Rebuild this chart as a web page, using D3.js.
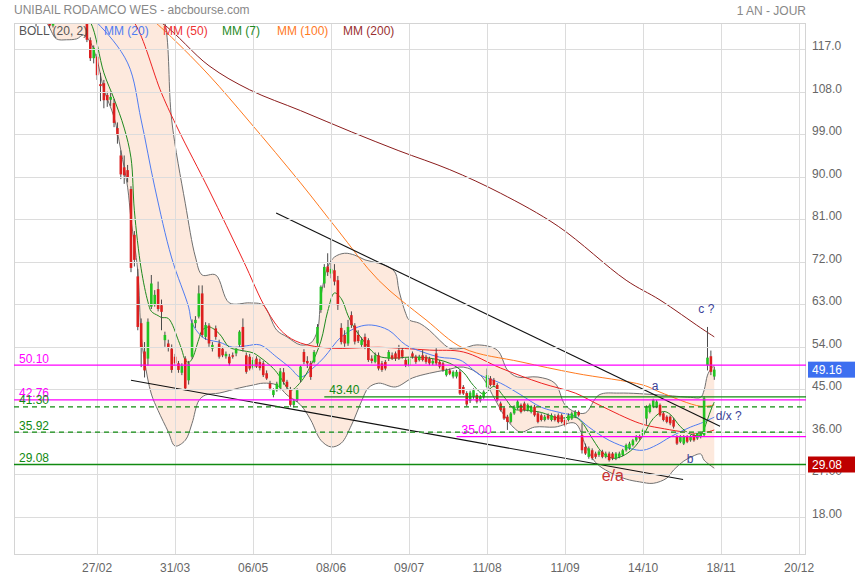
<!DOCTYPE html>
<html><head><meta charset="utf-8">
<script src="https://cdn.jsdelivr.net/npm/d3@7/dist/d3.min.js"></script>
<style>
body{margin:0;background:#fff}
svg{display:block}
text{font-family:"Liberation Sans",Arial,sans-serif}
</style>
</head><body>
<svg id="chart" width="855" height="580"></svg>
<script>
// ---------- DATA ----------
const titleText = "UNIBAIL RODAMCO WES - abcbourse.com";
const periodText = "1 AN - JOUR";
const firstDay = 0;
const openP = [130.0,129.0,127.5,128.5,126.5,125.0,123.5,123.0,124.5,125.5,124.0,122.0,123.2,125.0,126.5,127.0,128.0,127.5,127.0,126.0,
125.5,123.2,118.9,115.1,115.4,109.6,109.8,107.3,106.3,105.6,100.3,94.5,92.0,91.4,87.4,77.7,68.9,59.0,53.0,51.5,
62.5,63.0,66.2,62.8,55.4,54.7,53.6,51.9,50.5,48.5,51.5,46.9,51.9,59.0,60.4,65.3,56.1,58.5,53.6,57.9,
54.7,53.6,52.0,51.9,52.2,52.6,54.4,58.2,52.2,51.9,49.6,51.5,50.8,50.5,48.4,46.2,43.8,44.8,45.3,48.6,
46.6,45.0,41.7,42.7,47.0,52.9,51.0,50.5,50.8,54.7,61.8,67.4,71.0,69.5,70.2,68.1,58.0,56.5,54.7,60.7,
58.5,56.5,54.4,56.1,55.4,51.5,50.8,52.2,50.5,50.8,51.5,52.2,52.6,53.3,53.3,51.2,50.1,52.6,51.9,51.2,
52.2,51.9,51.5,50.5,52.6,50.8,50.5,48.0,49.0,47.7,47.7,48.7,45.5,44.2,42.5,43.4,43.8,42.6,43.3,45.5,
47.3,47.0,45.9,42.0,41.0,39.2,38.1,39.9,41.0,41.7,42.0,40.6,40.2,41.3,39.9,39.5,38.5,39.5,38.5,39.3,
39.5,39.5,38.5,38.5,38.8,39.2,40.2,35.3,32.8,30.7,32.1,31.4,31.1,31.8,30.7,31.4,31.4,30.4,30.7,31.1,
32.1,32.5,33.2,34.2,35.0,35.3,38.8,40.2,41.3,41.3,41.7,39.9,39.2,39.2,38.5,35.0,33.9,33.5,35.0,34.2,
35.3,34.6,35.0,35.3,50.1,52.0,47.7];
const highP = [131.5,130.0,129.0,129.5,127.5,126.0,124.5,125.0,126.0,126.5,124.5,123.5,125.5,127.0,128.0,128.5,129.5,128.5,128.0,127.0,
126.0,124.0,119.5,117.8,116.0,112.0,110.5,108.0,108.0,106.5,101.5,95.6,94.5,92.5,88.0,78.5,70.5,60.0,55.0,60.0,
69.2,66.0,67.8,64.0,57.2,55.5,54.5,52.5,51.0,50.5,52.0,51.0,59.8,60.5,67.0,67.0,59.2,59.0,55.0,58.5,
55.5,54.0,53.0,52.5,52.8,54.0,57.5,60.0,52.8,52.5,51.8,52.0,51.5,51.0,49.0,46.8,45.2,46.6,49.5,49.5,
47.0,45.5,43.0,45.2,50.0,53.5,52.0,51.0,53.3,58.8,67.0,71.5,73.8,76.6,71.5,69.0,59.0,57.5,59.7,61.5,
59.0,57.5,56.0,56.8,55.8,52.2,52.8,52.8,51.0,51.2,53.3,52.8,53.0,54.4,53.8,51.6,51.9,53.0,52.3,52.3,
53.3,52.3,51.9,51.4,53.7,51.2,50.8,49.4,49.4,49.0,49.1,49.2,45.9,44.6,44.7,45.2,44.2,43.8,44.8,49.4,
47.8,47.4,46.3,42.4,41.3,39.6,40.2,41.6,42.7,42.0,42.4,42.0,41.6,41.7,40.3,39.9,39.6,39.9,39.9,39.7,
39.9,39.9,38.9,39.9,40.3,40.6,40.5,37.8,33.5,32.9,32.5,31.8,32.1,32.2,31.8,31.8,31.7,31.7,31.8,32.4,
33.5,33.9,34.5,35.3,35.4,36.7,41.6,42.0,43.0,42.7,42.0,40.2,39.5,39.5,38.9,35.3,35.3,35.3,35.3,35.3,
35.6,36.0,36.0,43.5,58.2,53.2,49.8];
const lowP = [128.5,127.0,126.5,126.0,124.5,123.0,121.8,122.7,123.5,123.5,121.5,121.6,122.8,124.5,125.5,126.0,127.0,126.5,125.5,124.5,
123.0,118.5,114.5,114.0,110.5,106.0,104.5,104.8,105.0,100.5,97.0,89.5,88.5,88.8,69.8,71.0,57.5,49.7,47.5,50.0,
62.0,62.5,61.5,57.5,54.0,53.0,48.5,50.0,48.5,48.0,44.8,46.0,51.5,58.0,60.0,56.0,55.5,54.0,53.0,55.5,
51.5,51.8,51.5,50.0,51.5,52.0,54.0,53.0,48.3,49.0,49.2,49.5,49.0,47.6,47.0,44.8,43.3,44.5,44.8,46.0,
45.0,41.3,41.2,42.3,46.5,50.3,49.5,47.0,50.5,54.2,61.2,66.5,69.0,68.5,67.0,61.8,54.5,54.0,54.2,58.0,
54.5,54.8,54.0,53.5,50.8,50.5,50.5,49.0,48.7,49.0,51.0,51.2,51.0,51.2,51.5,49.7,49.8,51.5,50.4,50.9,
50.9,50.4,50.1,50.1,50.1,49.4,48.7,47.7,48.0,47.3,47.3,43.8,43.8,41.4,42.1,43.0,42.0,42.2,43.0,45.2,
45.6,45.6,42.4,40.3,38.5,36.4,37.8,39.6,40.7,39.9,40.3,40.3,39.9,39.2,37.8,38.2,38.2,38.5,38.2,38.2,
37.8,37.8,37.1,38.2,38.5,38.9,39.2,31.4,31.1,30.3,30.0,30.3,30.7,30.4,30.4,29.7,30.0,30.0,30.4,30.8,
31.8,32.2,32.9,33.9,34.3,35.0,37.5,39.9,41.0,41.0,39.2,38.2,37.8,37.4,36.7,33.2,33.6,33.2,33.6,33.9,
33.9,34.3,34.6,35.0,49.0,48.0,47.0];
const closeP = [129.0,127.5,128.5,126.5,125.0,123.5,122.4,124.5,125.5,124.0,122.0,123.2,125.0,126.5,127.0,128.0,127.5,127.0,126.0,125.5,
123.5,119.0,115.1,117.3,111.5,109.2,106.2,106.2,106.9,101.4,98.8,90.5,90.3,89.9,70.7,72.4,58.2,53.9,49.0,59.3,
67.4,65.0,62.0,61.4,56.5,53.9,49.1,50.5,49.1,49.9,45.2,50.5,59.0,59.7,65.3,56.5,58.6,54.7,54.4,56.1,
51.9,52.2,52.5,50.5,51.9,53.6,57.2,53.6,48.7,49.4,51.2,49.8,49.5,48.0,47.3,45.2,44.8,46.2,48.8,46.6,
45.5,41.7,42.5,44.8,49.8,50.8,50.5,47.6,52.9,58.2,66.7,70.9,69.8,70.5,67.8,62.8,55.0,54.7,58.2,58.6,
55.1,55.2,55.4,54.0,51.2,51.0,52.2,49.4,49.1,49.4,52.9,51.5,51.5,51.5,51.9,50.1,51.5,51.9,50.8,51.9,
51.2,50.8,50.5,51.0,50.5,49.8,49.1,49.1,48.3,48.7,48.7,44.1,44.1,41.8,44.3,44.8,42.4,43.5,44.5,48.0,
45.9,45.9,42.7,40.6,38.8,38.1,39.9,41.3,42.4,40.2,40.6,41.7,41.3,39.5,38.1,38.5,39.2,38.8,39.5,38.5,
38.1,38.1,37.4,39.5,39.9,40.2,39.5,32.1,31.4,32.5,30.4,30.7,31.8,30.7,31.4,30.0,30.4,31.4,31.4,32.1,
33.2,33.5,34.2,34.9,34.6,36.4,41.3,41.7,42.7,42.4,39.5,38.5,38.1,37.8,37.1,33.5,35.0,35.0,33.9,35.0,
34.2,35.7,35.7,43.1,51.7,48.7,49.16];

// moving averages & bollinger (day index, value)
const mm7Days = [18,22,26,29,32,34,35,37,39,40,42,43,45,48,49,50,51,52,54,55,57,60,63,66,70,72,76,78,81,84,87,90,92,94,96,98,100,102,105,107,111,116,122,128,132,135,138,141,144,147,150,155,160,165,167,169,171,173,176,179,182,185,188,191,193,196,199,202,203,204,205,206];
const mm7Vals = [126.0,122.8,112.0,106.5,100.3,94.0,82.8,70.5,63.5,61.5,60.6,60.2,60.0,55.3,53.3,51.2,50.7,51.4,55.6,57.5,58.2,56.8,53.9,53.3,52.7,51.8,49.4,47.6,44.8,46.5,50.0,55.2,61.5,65.4,64.2,60.6,57.8,55.8,53.1,52.0,51.6,51.8,51.6,50.5,48.6,45.8,44.0,45.6,43.4,40.8,40.6,40.1,38.9,39.1,38.0,35.8,33.5,31.6,30.4,30.9,32.4,35.2,38.8,40.3,39.7,37.1,35.5,35.3,36.6,38.6,40.6,42.3];
const mm20Days = [18,24,33,37,41,46,51,52,55,57,60,64,68,72,77,81,84,88,91,96,101,105,110,115,120,125,131,137,143,149,155,161,165,169,175,181,185,189,193,199,202,206];
const mm20Vals = [126.0,122.6,114.1,102.0,87.8,72.8,62.4,59.0,56.1,55.4,55.0,53.9,54.2,54.4,51.8,49.5,47.6,49.7,51.8,56.1,58.2,58.6,57.5,54.4,52.9,51.8,51.2,48.0,46.3,43.8,41.2,40.0,39.3,37.0,34.2,32.5,32.1,33.2,34.9,37.0,37.8,39.1];
const mm50Days = [30,35,43,48,57,67,74,79,84,93,107,122,132,143,155,165,172,184,190,202,206];
const mm50Vals = [126.0,122.6,107.7,99.9,87.2,72.4,61.8,56.9,54.8,53.7,53.9,53.3,52.9,49.5,46.3,44.2,41.7,37.8,36.8,35.7,36.4];
const mm100Days = [36,46,57,69,84,95,107,121,132,149,165,185,190,202,206];
const mm100Vals = [126.0,119.5,111.5,101.6,88.7,78.7,68.1,59.7,53.7,50.8,48.4,45.9,44.4,41.4,41.7];
const mm200Days = [30,43,57,69,84,99,113,128,143,160,180,190,202,206];
const mm200Vals = [127.5,122.6,113.5,108.4,104.0,99.5,95.5,91.5,86.5,79.5,68.1,63.9,58.0,56.1];
const bollUpDays = [0,20,36,41,44,46,50,53,55,59,63,69,73,77,80,84,87,89,90,92,94,97,100,103,107,110,112,113,115,116,119,122,125,128,132,136,142,145,148,154,159,162,165,168,172,178,190,199,202,203,204,205,206];
const bollUpVals = [134,132,131,128,122.6,102.0,84.4,73.0,69.2,69.2,63.3,63.3,62.8,57.5,56.1,54.4,54.8,57.5,64.5,70.9,73.0,73.8,73.4,72.4,71.7,70.9,69.6,66.0,61.1,59.7,59.0,57.5,55.4,53.7,53.7,54.4,53.3,49.1,47.6,47.6,46.3,41.7,40.2,40.0,43.8,44.2,43.8,43.3,43.3,44.8,48.0,49.3,50.1];
const bollLowDays = [0,5,9,12,15,18,20,22,24,26,29,31,33,34,36,37,38,40,42,45,47,50,52,54,56,60,66,70,73,77,80,84,87,90,93,96,99,102,104,107,112,117,122,127,132,137,141,144,147,149,153,159,165,168,171,175,180,184,188,192,194,197,199,202,203,206];
const bollLowVals = [125.5,124.0,122.6,119.2,119.0,119.2,120.0,118.5,114.7,108.5,102.6,95.6,87.8,81.0,70.0,56.5,51.0,44.0,40.5,36.0,33.0,34.2,37.8,42.6,43.8,44.2,45.3,45.9,46.3,45.9,43.8,41.7,38.5,34.2,32.8,33.6,37.4,42.5,45.3,46.3,45.5,47.4,48.4,49.1,49.7,48.0,43.3,39.5,36.8,35.9,37.0,37.0,37.8,33.2,29.5,27.5,26.0,25.4,25.1,26.2,27.9,29.8,30.6,31.3,30.0,28.3];

// axes
const dateTickDays = [24,47,70,93,116,139,162,185,208,231];
const dateTickLabels = ["27/02","31/03","06/05","08/06","09/07","11/08","11/09","14/10","18/11","20/12"];
const priceTicks = [18,27,36,45,54,63,72,81,90,99,108,117];
const priceTickLabels = ["18.00","27.00","36.00","45.00","54.00","63.00","72.00","81.00","90.00","99.00","108.0","117.0"];

// drawn levels
const levelVals = [50.10,42.76,41.30,35.92,29.08,43.40,35.00];
const levelLabels = ["50.10","42.76","41.30","35.92","29.08","43.40","35.00"];
const levelStartDays = [null,null,null,null,null,91,130];

// trend lines (day, value)
const trend1Days = [76.8,207.7], trend1Vals = [82.3,37.2];
const trend2Days = [34.0,196.8], trend2Vals = [46.9,25.9];

// wave annotations
const noteTexts = ["c ?","a","d/x ?","b","e/a"];
const noteDays = [201.3,187.6,206.4,197.9,172.8];
const noteVals = [62.0,45.7,39.4,30.2,26.8];

// last price / support tags
const tagVals = [49.16,29.08];
const tagLabels = ["49.16","29.08"];

const legendLabels = ["BOLL (20, 2)","MM (20)","MM (50)","MM (7)","MM (100)","MM (200)"];

// ---------- CHART ----------
const L = 14, R = 806, T = 23, B = 555;
const svg = d3.select("#chart");
const x = d3.scaleLinear().domain([-0.5, 233.05]).range([L, R]);
const y = d3.scaleLinear().domain([9.92, 122.55]).range([B, T]);
const crisp = v => Math.round(v) + 0.5;

svg.append("defs").append("clipPath").attr("id","plot")
  .append("rect").attr("x",L).attr("y",T).attr("width",R-L).attr("height",B-T);

const pts = (ds, vs) => ds.map((d,i)=>[d, vs[i]]);
const lineGen = d3.line().x(d=>x(d[0])).y(d=>y(d[1])).curve(d3.curveCatmullRom.alpha(0.5));

const plot = svg.append("g").attr("clip-path","url(#plot)");

// bollinger fill
const up = pts(bollUpDays, bollUpVals), lo = pts(bollLowDays, bollLowVals).reverse();
plot.append("path")
  .attr("d", lineGen(up) + "L" + lineGen(lo).slice(1) + "Z")
  .attr("fill","#fde9dd").attr("stroke","none");

// grid
const grid = svg.append("g");
grid.selectAll(".hg").data(priceTicks).join("line")
  .attr("x1",L).attr("x2",R).attr("y1",d=>crisp(y(d))).attr("y2",d=>crisp(y(d)))
  .attr("stroke","#dcdcdc").attr("stroke-width",1);
grid.selectAll(".vg").data(dateTickDays).join("line")
  .attr("y1",T).attr("y2",B).attr("x1",d=>crisp(x(d))).attr("x2",d=>crisp(x(d)))
  .attr("stroke","#dcdcdc").attr("stroke-width",1);
svg.append("rect").attr("x",L+0.5).attr("y",T+0.5).attr("width",R-L-1).attr("height",B-T-1)
  .attr("fill","none").attr("stroke","#d4d4d4");

// band lines
plot.append("path").attr("d", lineGen(pts(bollUpDays,bollUpVals))).attr("fill","none").attr("stroke","#707070").attr("stroke-width",1);
plot.append("path").attr("d", lineGen(pts(bollLowDays,bollLowVals))).attr("fill","none").attr("stroke","#707070").attr("stroke-width",1);

// moving averages
const maDefs = [
  [mm200Days, mm200Vals, "#8b1c1c"],
  [mm100Days, mm100Vals, "#ff7a1f"],
  [mm50Days, mm50Vals, "#ee2222"],
  [mm20Days, mm20Vals, "#4f7cf2"],
  [mm7Days, mm7Vals, "#1f8a1f"]
];
maDefs.forEach(([ds,vs,c]) => {
  plot.append("path").attr("d", lineGen(pts(ds,vs))).attr("fill","none").attr("stroke",c).attr("stroke-width",1);
});

// candles
const candles = openP.map((o,i)=>({k:firstDay+i, o, h:highP[i], l:lowP[i], c:closeP[i]}));
const cg = plot.append("g");
cg.selectAll(".wick").data(candles).join("line")
  .attr("x1",d=>x(d.k)).attr("x2",d=>x(d.k))
  .attr("y1",d=>y(d.h)).attr("y2",d=>y(d.l))
  .attr("stroke","#4a4a4a").attr("stroke-width",1);
cg.selectAll(".body").data(candles).join("rect")
  .attr("x",d=>x(d.k)-1.3).attr("width",2.6)
  .attr("y",d=>y(Math.max(d.o,d.c)))
  .attr("height",d=>Math.max(1, Math.abs(y(d.o)-y(d.c))))
  .attr("fill",d=>d.c>=d.o ? "#22c322" : "#dc1f1f");

// levels
const levelColor = ["#ff00ff","#ff00ff","#118a11","#118a11","#118a11","#118a11","#ff00ff"];
const levelDash = [null,null,"5,4","5,4",null,null,null];
const lv = svg.append("g");
levelVals.forEach((v,i) => {
  const x0 = levelStartDays[i]===null ? L : x(levelStartDays[i]);
  lv.append("line").attr("x1",x0).attr("x2",R).attr("y1",y(v)).attr("y2",y(v))
    .attr("stroke",levelColor[i]).attr("stroke-width",1.3)
    .attr("stroke-dasharray",levelDash[i]);
  lv.append("text").attr("x", levelStartDays[i]===null ? 19 : x0+5).attr("y", y(v)-2.5)
    .attr("fill",levelColor[i]).attr("font-size",12).text(levelLabels[i]);
});

// trend lines
[[trend1Days,trend1Vals],[trend2Days,trend2Vals]].forEach(([ds,vs])=>{
  plot.append("line").attr("x1",x(ds[0])).attr("y1",y(vs[0])).attr("x2",x(ds[1])).attr("y2",y(vs[1]))
    .attr("stroke","#111").attr("stroke-width",1.1);
});

// annotations
const noteColor = ["#3b3f98","#3b3f98","#3b3f98","#3b3f98","#c83232"];
const noteSize = [12,12,12,12,16];
noteTexts.forEach((t,i)=>{
  svg.append("text").attr("x",x(noteDays[i])).attr("y",y(noteVals[i])).attr("dy","0.35em")
    .attr("fill",noteColor[i]).attr("font-size",noteSize[i]).text(t);
});

// right axis labels
svg.append("g").selectAll("text").data(priceTicks).join("text")
  .attr("x",812).attr("y",d=>y(d)+1).attr("fill","#666").attr("font-size",12)
  .text((d,i)=>priceTickLabels[i]);

// bottom axis labels
svg.append("g").selectAll("text").data(dateTickDays).join("text")
  .attr("x",d=>x(d)).attr("y",572).attr("text-anchor","middle").attr("fill","#666").attr("font-size",12)
  .text((d,i)=>dateTickLabels[i]);

// tags
const tagColor = ["#3d6ff0","#be0000"];
tagVals.forEach((v,i)=>{
  svg.append("rect").attr("x",808).attr("y",y(v)-8).attr("width",47).attr("height",16).attr("fill",tagColor[i]);
  svg.append("text").attr("x",812).attr("y",y(v)).attr("dy","0.36em").attr("fill","#fff").attr("font-size",12).text(tagLabels[i]);
});

// legend
const legendX = [19,104,163,222,277,343];
const legendColor = ["#555","#4f7cf2","#ee3333","#1f8a1f","#ff7a1f","#9a3030"];
legendLabels.forEach((t,i)=>{
  svg.append("text").attr("x",legendX[i]).attr("y",35).attr("fill",legendColor[i]).attr("font-size",12).text(t);
});

// title
svg.append("text").attr("x",14).attr("y",13.5).attr("fill","#888").attr("font-size",12).text(titleText);
svg.append("text").attr("x",806).attr("y",14.5).attr("text-anchor","end").attr("fill","#888").attr("font-size",12).text(periodText);
</script>
</body></html>
